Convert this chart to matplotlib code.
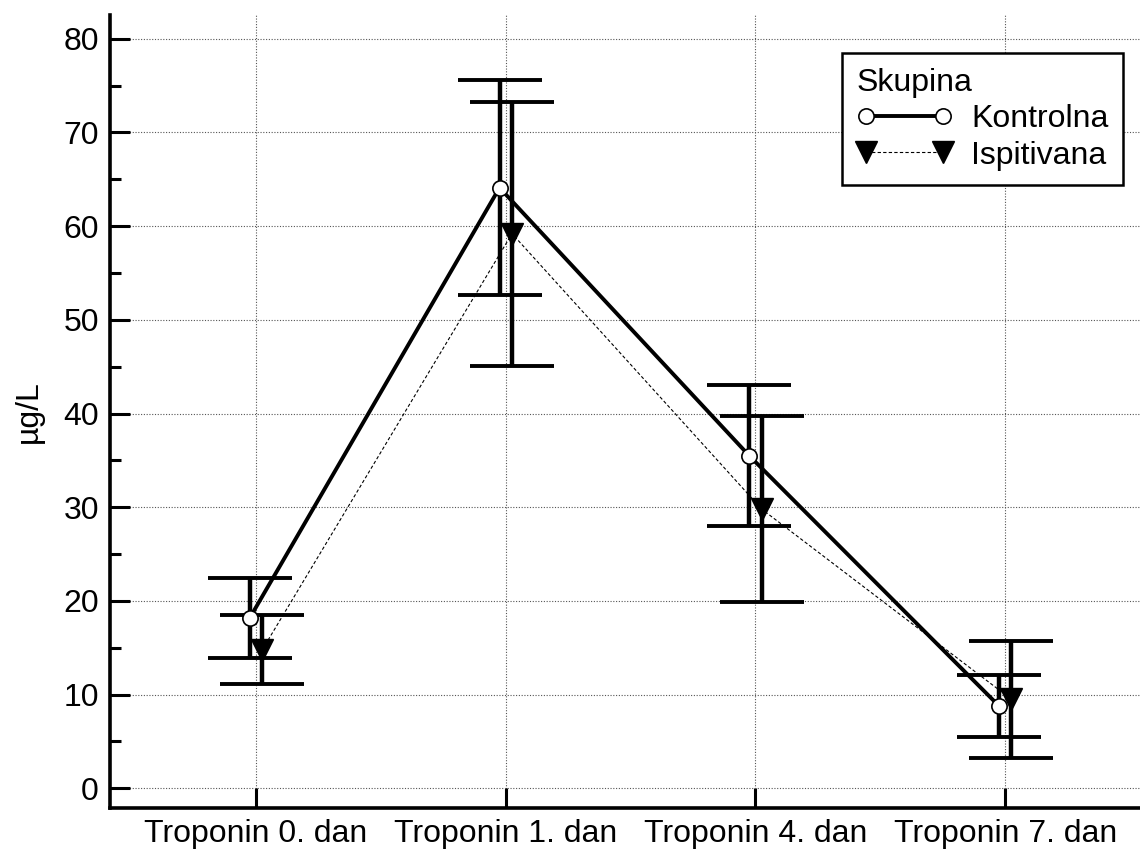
import matplotlib.pyplot as plt
import numpy as np
from matplotlib.ticker import MultipleLocator

plt.rcParams['font.family'] = ['Liberation Sans', 'DejaVu Sans']

# Podaci
kategorije = ['Troponin 0. dan', 'Troponin 1. dan', 'Troponin 4. dan', 'Troponin 7. dan']
kontrolna = [18.2, 64.1, 35.5, 8.8]
kontrolna_err = [4.3, 11.5, 7.5, 3.35]
ispitivana = [14.8, 59.2, 29.8, 9.5]
ispitivana_err = [3.65, 14.1, 9.95, 6.25]

x = np.arange(len(kategorije))
pomak = 0.025
fs = 23

fig = plt.figure(figsize=(11.4, 8.51), dpi=100)
ax = fig.add_axes([0.0965, 0.0505, 0.9035, 0.9315])

# Ispitivana (tanka isprekidana linija)
ax.errorbar(x + pomak, ispitivana, yerr=ispitivana_err, fmt='none', ecolor='black',
            elinewidth=3.2, capsize=30, capthick=2.8, zorder=3)
ax.plot(x + pomak, ispitivana, color='black', linestyle=(0, (3, 2)), linewidth=0.8,
        marker='v', markersize=16, markerfacecolor='black', markeredgecolor='black',
        label='Ispitivana', zorder=4)

# Kontrolna (puna linija)
ax.errorbar(x - pomak, kontrolna, yerr=kontrolna_err, fmt='none', ecolor='black',
            elinewidth=3.2, capsize=30, capthick=2.8, zorder=3)
ax.plot(x - pomak, kontrolna, color='black', linestyle='-', linewidth=2.8,
        marker='o', markersize=11, markerfacecolor='white', markeredgecolor='black',
        markeredgewidth=1.2, label='Kontrolna', zorder=5)

ax.set_xlim(-0.585, 3.54)
ax.set_ylim(-2.1, 82.5)
ax.set_xticks(x)
ax.set_xticklabels(kategorije, fontsize=fs)
ax.yaxis.set_major_locator(MultipleLocator(10))
ax.yaxis.set_minor_locator(MultipleLocator(5))
ax.tick_params(axis='y', which='major', direction='in', length=14.5, width=2.2, labelsize=fs, pad=8)
ax.tick_params(axis='y', which='minor', direction='in', length=8, width=2.2)
ax.tick_params(axis='x', which='major', direction='in', length=14.5, width=2.2, labelsize=fs, pad=8)
ax.set_ylabel('µg/L', fontsize=fs, labelpad=14)

ax.grid(True, color='#555555', linestyle=(0, (1, 1.5)), linewidth=0.8)
ax.set_axisbelow(True)

for s in ['top', 'right']:
    ax.spines[s].set_visible(False)
for s in ['left', 'bottom']:
    ax.spines[s].set_linewidth(2.6)

h, l = ax.get_legend_handles_labels()
leg = ax.legend(h[::-1], l[::-1], title='Skupina', loc='upper right', bbox_to_anchor=(0.9835, 0.952),
                fontsize=fs, title_fontsize=fs, numpoints=2, handlelength=3.0,
                fancybox=False, edgecolor='black', framealpha=1, borderpad=0.45,
                labelspacing=0.2, handletextpad=0.6, borderaxespad=0)
leg.get_frame().set_linewidth(1.8)
leg._legend_box.align = 'left'

fig.savefig('out.png', dpi=100)
